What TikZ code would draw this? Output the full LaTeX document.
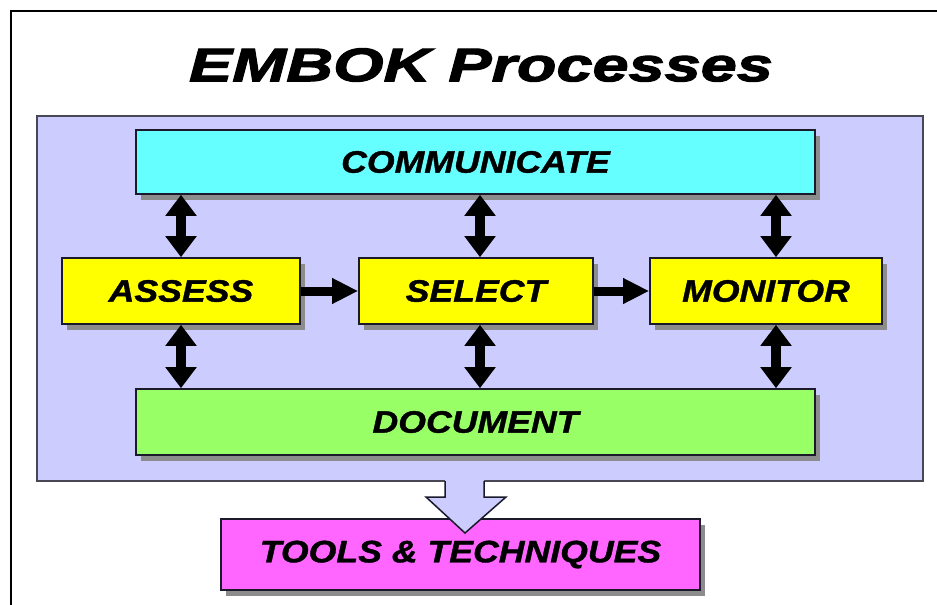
\documentclass[tikz,border=0pt]{standalone}
\usepackage{fontspec}
\setmainfont{Liberation Sans}
\newfontfamily\lblfont[FakeStretch=1.15,BoldItalicFeatures={FakeBold=1.2}]{Liberation Sans}
\newfontfamily\ttlfont[FakeStretch=1.38,BoldItalicFeatures={FakeBold=2.5}]{Liberation Sans}
\usetikzlibrary{arrows.meta,shadows}
\definecolor{lav}{HTML}{CCCCFF}
\definecolor{cyanbox}{HTML}{66FFFF}
\definecolor{yelbox}{HTML}{FFFF00}
\definecolor{grnbox}{HTML}{99FF66}
\definecolor{magbox}{HTML}{FF66FF}
\definecolor{edge}{HTML}{1A1A2A}
\tikzset{
  procbox/.style={draw=edge, line width=1.6pt, inner sep=0pt,
    minimum height=66pt,
    drop shadow={shadow xshift=5pt, shadow yshift=-6pt, fill=black!45, opacity=1},
    font=\lblfont\bfseries\itshape\fontsize{31}{36}\selectfont},
  bgbox/.style={draw=edge!80, line width=1.4pt, fill=lav, inner sep=0pt},
  dblarrow/.style={line width=10pt, {Triangle[width=30pt,length=21pt]}-{Triangle[width=30pt,length=21pt]}},
  fwdarrow/.style={line width=9pt, -{Triangle[width=24pt,length=26pt]}},
}
\begin{document}
\begin{tikzpicture}[x=1pt,y=-1pt]
\useasboundingbox (0,0) rectangle (937,605);
\fill[white] (0,0) rectangle (937,605);
% outer frame (runs off the right and bottom edges)
\draw[line width=2.2pt, black] (11,605) -- (11,11) -- (937,11);

% title
\node (title) at (481,65) {\ttlfont\bfseries\itshape\fontsize{47}{52}\selectfont EMBOK Processes};

% lavender process area
\node[bgbox, minimum width=886pt, minimum height=365pt] (bg) at (480,298.5) {};

% process boxes
\node[procbox, fill=cyanbox, minimum width=679pt, minimum height=64pt] (comm) at (475.5,162) {COMMUNICATE};
\node[procbox, fill=yelbox, minimum width=238pt] (assess) at (181,291) {ASSESS};
\node[procbox, fill=yelbox, minimum width=234pt] (select) at (476,291) {SELECT};
\node[procbox, fill=yelbox, minimum width=232pt] (monitor) at (766,291) {MONITOR};
\node[procbox, fill=grnbox, minimum width=679pt] (doc) at (475.5,422) {DOCUMENT};

% two-way links between the process boxes
\draw[dblarrow] (assess.north |- comm.south) -- (assess.north);
\draw[dblarrow] ([xshift=4pt]select.north |- comm.south) -- ([xshift=4pt]select.north);
\draw[dblarrow] ([xshift=10pt]monitor.north |- comm.south) -- ([xshift=10pt]monitor.north);
\draw[dblarrow] (assess.south) -- (assess.south |- doc.north);
\draw[dblarrow] ([xshift=4pt]select.south) -- ([xshift=4pt]select.south |- doc.north);
\draw[dblarrow] ([xshift=10pt]monitor.south) -- ([xshift=10pt]monitor.south |- doc.north);

% forward flow
\draw[fwdarrow] (assess.east) -- (select.west);
\draw[fwdarrow] (select.east) -- (monitor.west);

% tools box
\node[procbox, fill=magbox, minimum width=479pt, minimum height=71pt] (tools) at (460.5,554.5) {TOOLS \& TECHNIQUES};

% hollow block arrow from the process area down to the tools box
\fill[lav] (445,478.5) -- (445,497) -- (426,497) -- (465,533) -- (506,497) -- (484,497) -- (484,478.5) -- cycle;
\draw[edge, line width=1.5pt, line join=miter] (445,481) -- (445,497) -- (426,497) -- (465,533) -- (506,497) -- (484,497) -- (484,481);
\end{tikzpicture}
\end{document}
